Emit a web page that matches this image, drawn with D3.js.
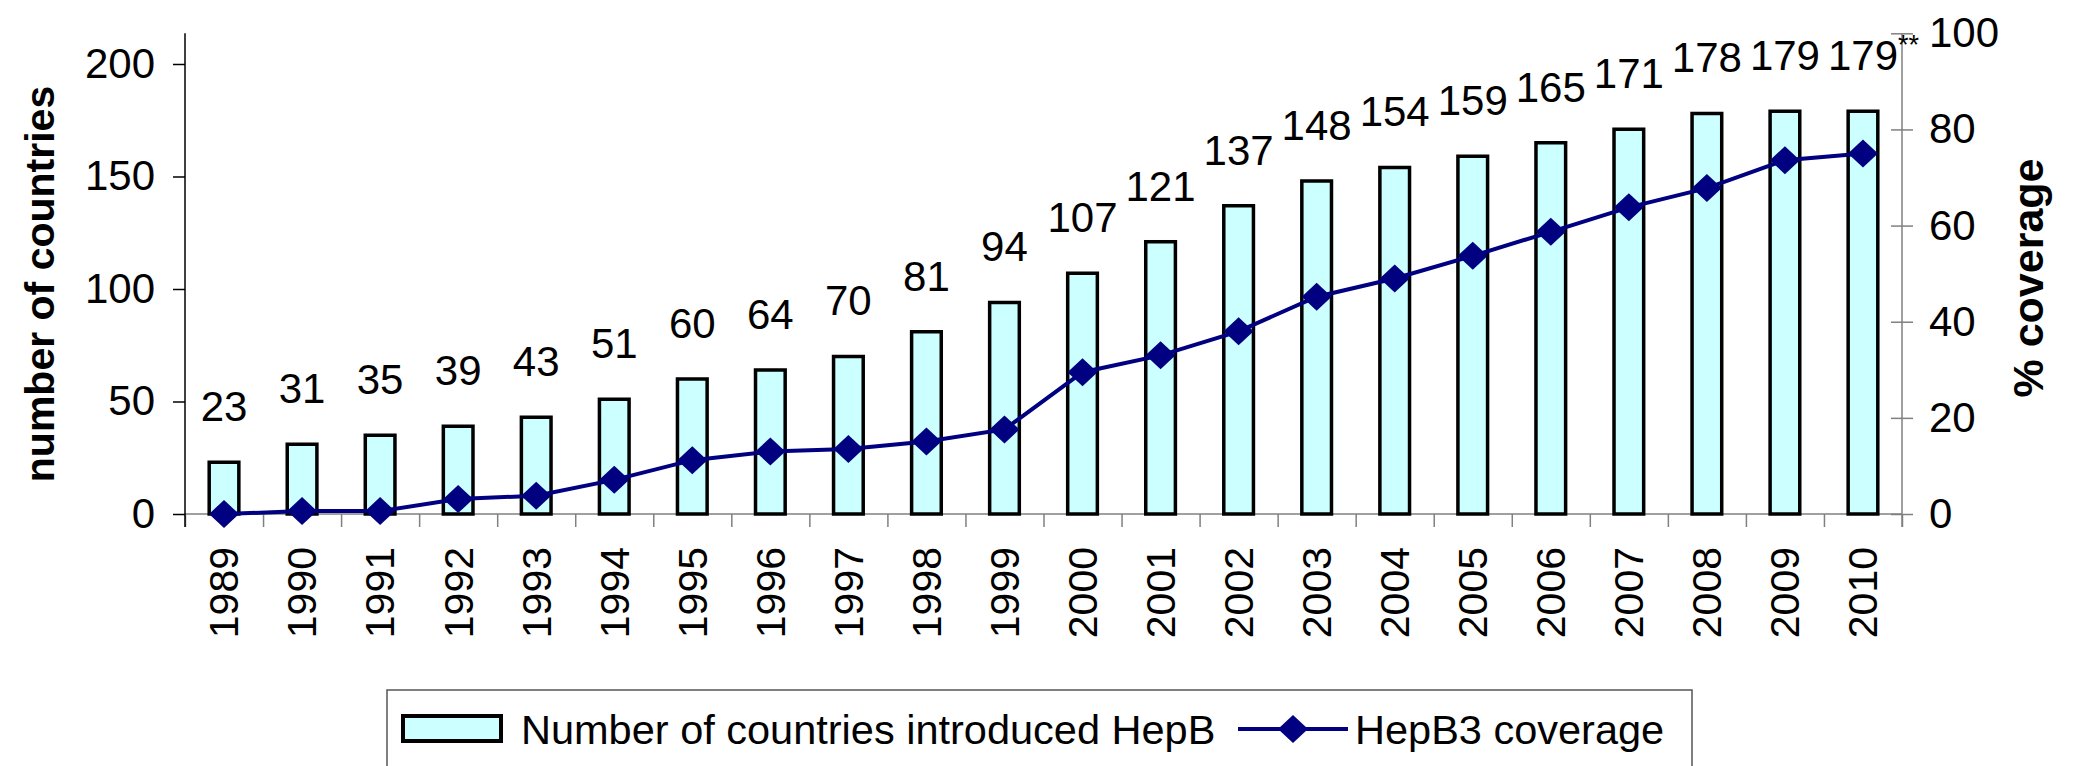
<!DOCTYPE html>
<html>
<head>
<meta charset="utf-8">
<script src="https://cdnjs.cloudflare.com/ajax/libs/d3/7.8.5/d3.min.js"></script>
<style>
  body { margin: 0; background: #fff; }
  svg { display: block; font-family: "Liberation Sans", Arial, sans-serif; }
</style>
</head>
<body>
<div id="vis"></div>
<script>
const years = ["1989","1990","1991","1992","1993","1994","1995","1996","1997","1998","1999",
               "2000","2001","2002","2003","2004","2005","2006","2007","2008","2009","2010"];
const countries = [23, 31, 35, 39, 43, 51, 60, 64, 70, 81, 94,
                   107, 121, 137, 148, 154, 159, 165, 171, 178, 179, 179];
const coverage = [0, 0.6, 0.6, 3.1, 3.8, 7.1, 11.2, 13.0, 13.5, 15.1, 17.6,
                  29.5, 33, 38, 45.2, 49, 53.7, 58.7, 63.8, 67.8, 73.6, 75.0];
const leftTicks = [0, 50, 100, 150, 200];
const rightTicks = [0, 20, 40, 60, 80, 100];
const barName = "Number of countries introduced HepB";
const lineName = "HepB3 coverage";

const W = 2074, H = 766;
const plotLeft = 185, plotRight = 1902, plotTop = 33.3, plotBottom = 514;

const svg = d3.select("#vis").append("svg")
  .attr("width", W).attr("height", H);

const x = d3.scaleBand()
  .domain(years)
  .range([plotLeft, plotRight])
  .paddingInner(0.62)
  .paddingOuter(0.31);

const xi = d3.scaleLinear().domain([0, years.length]).range([plotLeft, plotRight]);

const yL = d3.scaleLinear().domain([0, 213.64]).range([plotBottom, plotTop]);
const yR = d3.scaleLinear().domain([0, 100]).range([plotBottom, plotTop]);

// x axis: boundary ticks
const xAxis = svg.append("g")
  .attr("transform", `translate(0,${plotBottom})`)
  .call(d3.axisBottom(xi).tickValues(d3.range(0, years.length + 1)).tickSize(13).tickFormat(""));
xAxis.select(".domain").remove();
xAxis.selectAll(".tick line").attr("stroke", "#808080").attr("stroke-width", 1.5);
svg.append("line")
  .attr("x1", plotLeft).attr("x2", plotRight)
  .attr("y1", plotBottom).attr("y2", plotBottom)
  .attr("stroke", "#808080").attr("stroke-width", 1.5);

// year labels
svg.append("g").selectAll("text")
  .data(years)
  .join("text")
  .attr("transform", d => `translate(${x(d) + x.bandwidth() / 2},547) rotate(-90)`)
  .attr("text-anchor", "end")
  .attr("dy", "0.35em")
  .style("font-size", "41px")
  .text(d => d);

// left axis
const gL = svg.append("g")
  .attr("transform", `translate(${plotLeft},0)`)
  .call(d3.axisLeft(yL).tickValues(leftTicks).tickSize(12).tickPadding(18));
gL.select(".domain").remove();
gL.selectAll(".tick line").attr("stroke", "#000").attr("stroke-width", 1.5);
gL.selectAll(".tick text").style("font-size", "42px").attr("fill", "#000");
svg.append("line")
  .attr("x1", plotLeft).attr("x2", plotLeft)
  .attr("y1", plotTop).attr("y2", plotBottom + 13)
  .attr("stroke", "#000").attr("stroke-width", 1.5);

// right axis
const gR = svg.append("g")
  .attr("transform", `translate(${plotRight},0)`)
  .call(d3.axisRight(yR).tickValues(rightTicks).tickSize(11).tickPadding(16));
gR.select(".domain").remove();
gR.selectAll(".tick line").attr("x1", -11).attr("stroke", "#808080").attr("stroke-width", 1.5);
gR.selectAll(".tick text").style("font-size", "42px").attr("fill", "#000");
svg.append("line")
  .attr("x1", plotRight).attr("x2", plotRight)
  .attr("y1", plotTop).attr("y2", plotBottom + 13)
  .attr("stroke", "#808080").attr("stroke-width", 1.5);

// bars
svg.append("g").selectAll("rect")
  .data(countries)
  .join("rect")
  .attr("x", (d, i) => x(years[i]))
  .attr("y", d => yL(d))
  .attr("width", x.bandwidth())
  .attr("height", d => plotBottom - yL(d))
  .attr("fill", "#ccffff")
  .attr("stroke", "#000")
  .attr("stroke-width", 3.5);

// bar value labels
svg.append("g").selectAll("text")
  .data(countries)
  .join("text")
  .attr("x", (d, i) => x(years[i]) + x.bandwidth() / 2)
  .attr("y", d => yL(d) - 41)
  .attr("text-anchor", "middle")
  .style("font-size", "42px")
  .text(d => d);

// footnote marker on the last label
const last = years.length - 1;
svg.append("text")
  .attr("x", x(years[last]) + x.bandwidth() / 2 + 35)
  .attr("y", yL(countries[last]) - 57)
  .style("font-size", "27px")
  .text("**");

// coverage line
const line = d3.line()
  .x((d, i) => x(years[i]) + x.bandwidth() / 2)
  .y(d => yR(d));

svg.append("path")
  .datum(coverage)
  .attr("fill", "none")
  .attr("stroke", "#000080")
  .attr("stroke-width", 4)
  .attr("d", line);

const diamond = (cx, cy) => `M${cx},${cy - 14}L${cx + 15},${cy}L${cx},${cy + 14}L${cx - 15},${cy}Z`;

svg.append("g").selectAll("path")
  .data(coverage)
  .join("path")
  .attr("d", (d, i) => diamond(x(years[i]) + x.bandwidth() / 2, yR(d)))
  .attr("fill", "#000080");

// axis titles
svg.append("text")
  .attr("transform", "translate(40,284) rotate(-90)")
  .attr("text-anchor", "middle")
  .attr("dy", "0.35em")
  .style("font-size", "41px")
  .style("font-weight", "bold")
  .text("number of countries");

svg.append("text")
  .attr("transform", "translate(2028,278) rotate(-90)")
  .attr("text-anchor", "middle")
  .attr("dy", "0.35em")
  .style("font-size", "43px")
  .style("font-weight", "bold")
  .text("% coverage");

// legend
const lg = svg.append("g");
lg.append("rect")
  .attr("x", 387).attr("y", 690)
  .attr("width", 1692 - 387).attr("height", 120)
  .attr("fill", "#fff")
  .attr("stroke", "#555").attr("stroke-width", 1.5);
lg.append("rect")
  .attr("x", 403).attr("y", 716)
  .attr("width", 98).attr("height", 25)
  .attr("fill", "#ccffff")
  .attr("stroke", "#000").attr("stroke-width", 4);
lg.append("text")
  .attr("x", 521).attr("y", 729)
  .attr("dy", "0.35em")
  .style("font-size", "41.5px")
  .text(barName);
lg.append("line")
  .attr("x1", 1238).attr("x2", 1348)
  .attr("y1", 729).attr("y2", 729)
  .attr("stroke", "#000080").attr("stroke-width", 4);
lg.append("path")
  .attr("d", diamond(1293, 729))
  .attr("fill", "#000080");
lg.append("text")
  .attr("x", 1355).attr("y", 729)
  .attr("dy", "0.35em")
  .style("font-size", "41.5px")
  .text(lineName);
</script>
</body>
</html>
